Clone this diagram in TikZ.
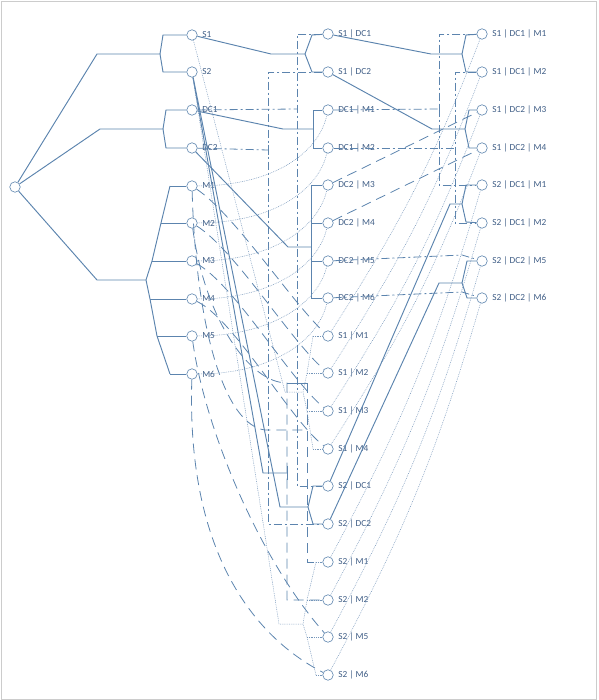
\documentclass[tikz,border=0pt]{standalone}
\usepackage{fontspec}
\setmainfont{Carlito}
\usetikzlibrary{positioning}
\definecolor{lnblue}{RGB}{92,132,174}
\definecolor{txblue}{RGB}{64,94,134}
\begin{document}
\begin{tikzpicture}[x=1pt,y=-1pt,font=\fontsize{9.3}{10}\selectfont,label distance=4.5pt]
\tikzstyle{nd}=[draw=lnblue,circle,minimum size=10.5pt,inner sep=0pt,line width=0.6pt,fill=white]
\tikzstyle{br}=[lnblue,line width=0.95pt]
\tikzstyle{dd}=[lnblue,line width=0.8pt,dash pattern=on 8pt off 3pt on 2pt off 3pt]
\tikzstyle{ld}=[lnblue,line width=0.8pt,dash pattern=on 10pt off 6pt]
\tikzstyle{dt}=[lnblue!85,line width=0.5pt,dash pattern=on 0.8pt off 1pt]
\tikzset{every label/.style={text=txblue,inner sep=0pt}}
\useasboundingbox (0,0) rectangle (598,700);
\draw[black!20] (1,1) rectangle (596,699);
\node[nd] (root) at (15,187) {};
\node[nd,label=right:S1] (s1) at (192,35) {}; \node[nd,label=right:S2] (s2) at (192,72) {};
\node[nd,label=right:DC1] (dc1) at (192,110) {}; \node[nd,label=right:DC2] (dc2) at (192,148) {};
\node[nd,label=right:M1] (m1) at (192,186) {}; \node[nd,label=right:M2] (m2) at (192,223) {};
\node[nd,label=right:M3] (m3) at (192,261) {}; \node[nd,label=right:M4] (m4) at (192,299) {};
\node[nd,label=right:M5] (m5) at (192,336) {}; \node[nd,label=right:M6] (m6) at (192,374) {};
\node[nd,label=right:S1 | DC1] (s1dc1) at (328,34) {}; \node[nd,label=right:S1 | DC2] (s1dc2) at (328,72) {};
\node[nd,label=right:DC1 | M1] (dc1m1) at (328,110) {}; \node[nd,label=right:DC1 | M2] (dc1m2) at (328,148) {};
\node[nd,label=right:DC2 | M3] (dc2m3) at (328,185) {}; \node[nd,label=right:DC2 | M4] (dc2m4) at (328,223) {};
\node[nd,label=right:DC2 | M5] (dc2m5) at (328,261) {}; \node[nd,label=right:DC2 | M6] (dc2m6) at (328,298) {};
\node[nd,label=right:S1 | M1] (s1m1) at (328,336) {}; \node[nd,label=right:S1 | M2] (s1m2) at (328,373) {};
\node[nd,label=right:S1 | M3] (s1m3) at (328,411) {}; \node[nd,label=right:S1 | M4] (s1m4) at (328,449) {};
\node[nd,label=right:S2 | DC1] (s2dc1) at (328,486) {}; \node[nd,label=right:S2 | DC2] (s2dc2) at (328,524) {};
\node[nd,label=right:S2 | M1] (s2m1) at (328,562) {}; \node[nd,label=right:S2 | M2] (s2m2) at (328,600) {};
\node[nd,label=right:S2 | M5] (s2m5) at (328,637) {}; \node[nd,label=right:S2 | M6] (s2m6) at (328,675) {};
\node[nd,label=right:S1 | DC1 | M1] (s1dc1m1) at (482,34) {}; \node[nd,label=right:S1 | DC1 | M2] (s1dc1m2) at (482,72) {};
\node[nd,label=right:S1 | DC2 | M3] (s1dc2m3) at (482,110) {}; \node[nd,label=right:S1 | DC2 | M4] (s1dc2m4) at (482,148) {};
\node[nd,label=right:S2 | DC1 | M1] (s2dc1m1) at (482,185) {}; \node[nd,label=right:S2 | DC1 | M2] (s2dc1m2) at (482,223) {};
\node[nd,label=right:S2 | DC2 | M5] (s2dc2m5) at (482,261) {}; \node[nd,label=right:S2 | DC2 | M6] (s2dc2m6) at (482,298) {};
\draw[br] (root) -- (97,54) -- (160,54) -- (163,35) -- (s1); \draw[br] (160,54) -- (163,72) -- (s2);
\draw[br] (root) -- (100,129) -- (163,129) -- (166,110) -- (dc1); \draw[br] (163,129) -- (166,148) -- (dc2);
\draw[br] (root) -- (97,280) -- (146,280);
\draw[br] (170,186) -- (161,223) -- (152,261) -- (146,280) -- (150,299) -- (157,336) -- (170,374);
\draw[br] (170,186) -- (m1); \draw[br] (161,223) -- (m2); \draw[br] (152,261) -- (m3);
\draw[br] (150,299) -- (m4); \draw[br] (157,336) -- (m5); \draw[br] (170,374) -- (m6);
\draw[br] (s1) -- (271,54) -- (305,54) -- (312,35) -- (s1dc1); \draw[br] (305,54) -- (312,72) -- (s1dc2);
\draw[br] (dc1) -- (283,129) -- (313,129); \draw[br] (dc1m1) -| (313,148) -- (dc1m2);
\draw[br] (dc2) -- (288,247) -- (311,247); \draw[br] (dc2m3) -| (311,298) -- (dc2m6);
\draw[br] (311,223) -- (dc2m4); \draw[br] (311,261) -- (dc2m5);
\draw[br] (s2) -- (280,507) -- (308,507) -- (313,486) -- (s2dc1); \draw[br] (308,507) -- (313,524) -- (s2dc2);
\draw[br] (s2) -- (263,473) -- (287,473); \draw[br] (287,466) -- (287,480); \draw[br] (287,383) -- (307,383);
\draw[br] (s1dc1) -- (431,54) -- (462,54) -- (466,35) -- (s1dc1m1); \draw[br] (462,54) -- (466,72) -- (s1dc1m2);
\draw[br] (s1dc2) -- (432,129) -- (465,129) -- (469,110) -- (s1dc2m3); \draw[br] (465,129) -- (469,148) -- (s1dc2m4);
\draw[br] (s2dc1) -- (450,204) -- (462,204) -- (466,185) -- (s2dc1m1); \draw[br] (462,204) -- (466,222) -- (s2dc1m2);
\draw[br] (s2dc2) -- (439,283) -- (462,283) -- (467,261) -- (s2dc2m5); \draw[br] (462,283) -- (467,298) -- (s2dc2m6);
\draw[dd] (dc1) -- (297,109); \draw[dd] (s1dc1) -| (297,486) -- (s2dc1);
\draw[dd] (dc2) -- (268,150); \draw[br] (268,145) -- (268,155); \draw[dd] (s1dc2) -| (268,524) -- (s2dc2);
\draw[dd] (dc1m1) -- (439,109); \draw[br] (439,104) -- (439,114); \draw[dd] (s1dc1m1) -| (439,185) -- (s2dc1m1);
\draw[dd] (dc1m2) -- (455,148); \draw[dd] (s1dc1m2) -| (455,223) -- (s2dc1m2);
\draw[dd] (dc2m5) -- (462,255) -- (s2dc2m5); \draw[dd] (dc2m6) -- (462,292) -- (s2dc2m6);
\draw[ld] (dc2m3) -- (s1dc2m3); \draw[ld] (dc2m4) -- (s1dc2m4);
\draw[ld] (m1) .. controls (235,215) and (290,300) .. (s1m1);
\draw[ld] (m2) .. controls (235,250) and (290,340) .. (s1m2);
\draw[ld] (m3) .. controls (235,285) and (290,380) .. (s1m3);
\draw[ld] (m4) .. controls (235,320) and (290,420) .. (s1m4);
\draw[ld] (m1) .. controls (196,330) and (225,425) .. (265,430) -- (307,430);
\draw[ld] (307,383) -- (307,562) -- (s2m1);
\draw[ld] (m2) .. controls (205,320) and (250,383) .. (287,383) -- (287,600) -- (s2m2);
\draw[ld] (m5) .. controls (205,430) and (260,560) .. (s2m5);
\draw[ld] (m6) .. controls (186,560) and (260,640) .. (s2m6);
\draw[dt] (m1) .. controls (270,186) and (318,155) .. (dc1m1);
\draw[dt] (m2) .. controls (270,223) and (318,192) .. (dc1m2);
\draw[dt] (m3) .. controls (270,261) and (318,229) .. (dc2m3);
\draw[dt] (m4) .. controls (270,299) and (318,267) .. (dc2m4);
\draw[dt] (m5) .. controls (270,336) and (318,304) .. (dc2m5);
\draw[dt] (m6) .. controls (270,374) and (318,342) .. (dc2m6);
\draw[dt] (s1) -- (285,392) -- (303,392); \draw[dt] (313,336) -- (307,373) -- (303,392) -- (307,411) -- (313,449);
\draw[dt] (313,336) -- (s1m1); \draw[dt] (307,373) -- (s1m2); \draw[dt] (307,411) -- (s1m3); \draw[dt] (313,449) -- (s1m4);
\draw[dt] (s2) -- (279,624) -- (303,624); \draw[dt] (316,562) -- (307,600) -- (303,624) -- (307,637) -- (316,675);
\draw[dt] (316,562) -- (s2m1); \draw[dt] (307,600) -- (s2m2); \draw[dt] (307,637) -- (s2m5); \draw[dt] (316,675) -- (s2m6);
\draw[dt] (s1m1) to[bend right=6] (s1dc1m1); \draw[dt] (s1m2) to[bend right=6] (s1dc1m2);
\draw[dt] (s1m3) to[bend right=6] (s1dc2m3); \draw[dt] (s1m4) to[bend right=6] (s1dc2m4);
\draw[dt] (s2m1) to[bend right=6] (s2dc1m1); \draw[dt] (s2m2) to[bend right=6] (s2dc1m2);
\draw[dt] (s2m5) to[bend right=6] (s2dc2m5); \draw[dt] (s2m6) to[bend right=6] (s2dc2m6);
\end{tikzpicture}
\end{document}
